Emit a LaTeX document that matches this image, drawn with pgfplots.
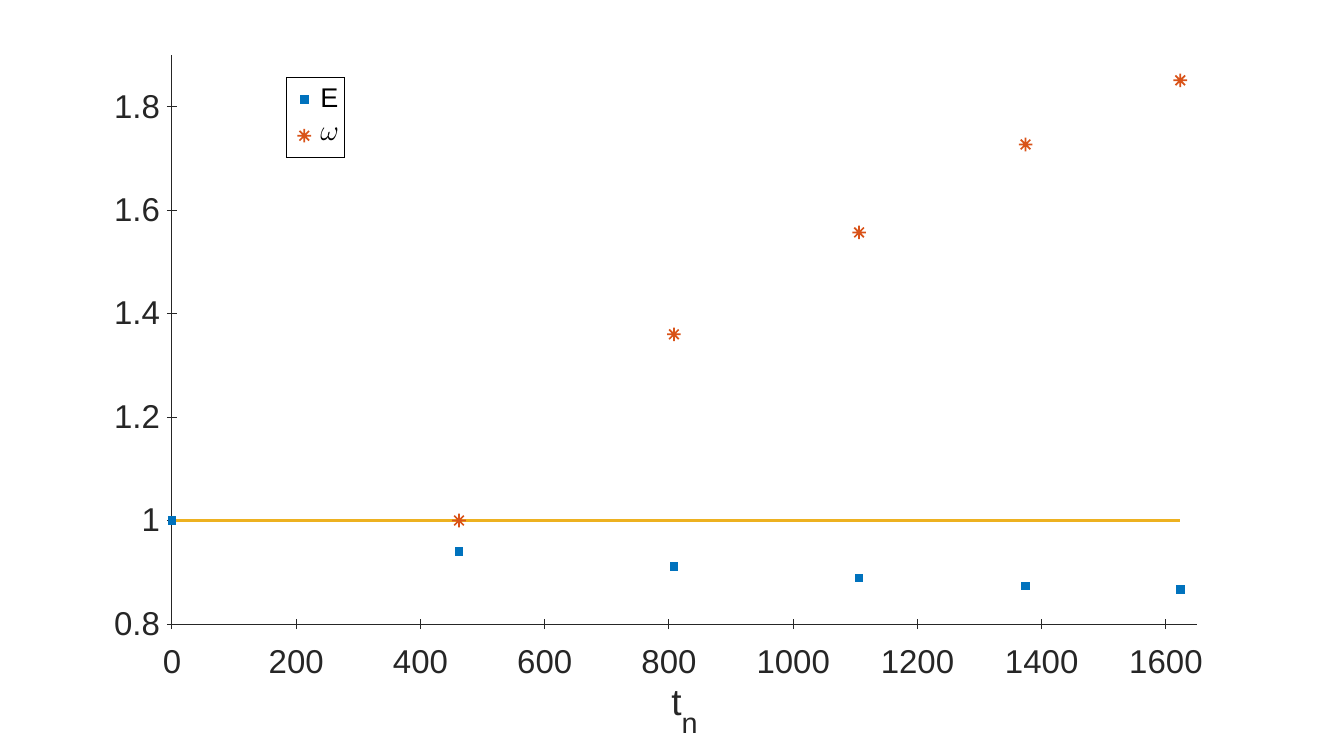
\documentclass[border=0pt]{standalone}
\usepackage{fontspec}
\setmainfont{Liberation Sans}
\usepackage{pgfplots}
\pgfplotsset{compat=1.18}
\definecolor{mblue}{HTML}{0072BD}
\definecolor{mred}{HTML}{D95319}
\definecolor{myellow}{HTML}{EDB120}
\definecolor{axgray}{HTML}{262626}

% MATLAB style '*' marker: a plus and a cross on top of each other
\pgfdeclareplotmark{mstar}{%
  \pgfpathmoveto{\pgfqpoint{0pt}{\pgfplotmarksize}}%
  \pgfpathlineto{\pgfqpoint{0pt}{-\pgfplotmarksize}}%
  \pgfpathmoveto{\pgfqpoint{\pgfplotmarksize}{0pt}}%
  \pgfpathlineto{\pgfqpoint{-\pgfplotmarksize}{0pt}}%
  \pgfpathmoveto{\pgfqpoint{.7071\pgfplotmarksize}{.7071\pgfplotmarksize}}%
  \pgfpathlineto{\pgfqpoint{-.7071\pgfplotmarksize}{-.7071\pgfplotmarksize}}%
  \pgfpathmoveto{\pgfqpoint{-.7071\pgfplotmarksize}{.7071\pgfplotmarksize}}%
  \pgfpathlineto{\pgfqpoint{.7071\pgfplotmarksize}{-.7071\pgfplotmarksize}}%
  \pgfusepathqstroke}

\begin{document}
\begin{tikzpicture}
\path[use as bounding box] (-86pt,-58pt) rectangle (576pt,312pt);
\begin{axis}[
    scale only axis,
    width=512.5pt,
    height=284.5pt,
    xmin=0, xmax=1650,
    ymin=0.8, ymax=1.9,
    xtick={0,200,...,1600},
    ytick={0.8,1,1.2,1.4,1.6,1.8},
    axis lines=left,
    x axis line style={-},
    y axis line style={-},
    axis line style={axgray, line width=0.5pt},
    major tick length=5pt,
    tick style={axgray, line width=0.5pt},
    tick label style={font=\fontsize{16.5}{19}\selectfont, text=axgray},
    /pgf/number format/assume math mode=true,
    /pgf/number format/1000 sep={},
    xticklabel style={anchor=base, yshift=-22pt},
    xlabel={t\raisebox{-9pt}{\fontsize{14.4}{16}\selectfont n}},
    xlabel style={at={(axis description cs:0.5,0)}, anchor=base, yshift=-45.5pt,
        font=\fontsize{18.5}{21}\selectfont, text=axgray},
    clip=false,
    legend style={at={(0.111,0.961)}, anchor=north west, draw=black,
        line width=0.5pt, font=\fontsize{13.5}{15}\selectfont,
        inner xsep=1pt, inner ysep=2pt, row sep=0pt,
        nodes={minimum height=18pt, inner ysep=0pt, inner xsep=2pt}},
    legend cell align=left,
    legend image code/.code={\path[draw=none, fill=none] (0pt,-1pt) rectangle (14pt,1pt);
        \draw[mark repeat=2,mark phase=2]
        plot coordinates {(0pt,0pt)(8pt,0pt)(16pt,0pt)};},
]
\addplot[only marks, mark=square*, mark size=1.9pt, color=mblue,
    mark options={fill=mblue, draw=mblue}]
    coordinates {(0,1.000) (462,0.940) (808,0.911) (1106,0.889) (1374,0.874) (1623,0.867)};
\addlegendentry{E}
\addplot[myellow, line width=1.1pt, forget plot]
    coordinates {(0,1) (1623,1)};
\addplot[only marks, mark=mstar, mark size=3.4pt, color=mred,
    mark options={line width=0.85pt}]
    coordinates {(462,1.000) (808,1.360) (1106,1.557) (1374,1.727) (1623,1.851)};
\addlegendentry{$\omega$}
\end{axis}
\end{tikzpicture}
\end{document}
